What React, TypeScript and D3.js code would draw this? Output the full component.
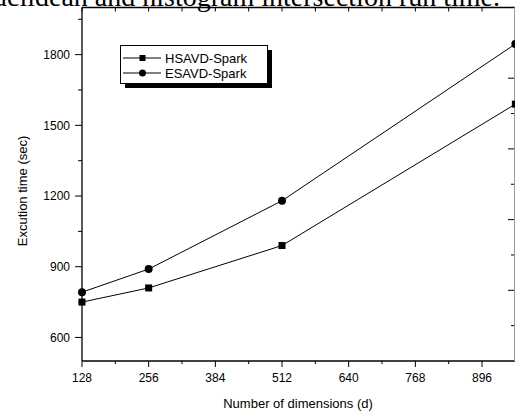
import React from "react";
import * as d3 from "d3";

const dims = [128, 256, 512, 960];
const hsavd = [750, 810, 990, 1590];
const esavd = [792, 890, 1180, 1845];
const xTicks = [128, 256, 384, 512, 640, 768, 896];
const xMinor = [192, 320, 448, 576, 704, 832];
const yTicks = [600, 900, 1200, 1500, 1800];
const yMinor = [750, 1050, 1350, 1650, 1950];
const rTicks = [800, 1100, 1400, 1700];
const rMinor = [650, 950, 1250, 1550];
const seriesNames = ["HSAVD-Spark", "ESAVD-Spark"];

const W = 515, H = 414;
const L = 82, R = 514, T = 7.5, B = 361;

export default function App() {
  const x = d3.scaleLinear().domain([128, 960]).range([L, 82 + (832 / 128) * 66.67]);
  const y = d3.scaleLinear().domain([500, 2000]).range([B, T]);
  const line = d3.line<number>().x((_, i) => x(dims[i])).y((v) => y(v));
  const font = "Liberation Sans, Arial, sans-serif";
  const topTicks = [...xTicks, ...xMinor];
  return (
    <svg width={W} height={H} style={{ position: "absolute", left: 0, top: 0, background: "#fff" }}>
      <text x={500} y={6} textAnchor="end" fontFamily="Liberation Serif, Times New Roman, serif" fontSize={28} fill="#000">
        Euclidean and histogram intersection run time.
      </text>
      {/* frame */}
      <line x1={L} x2={L} y1={T} y2={B} stroke="#000" strokeWidth={1.3} />
      <line x1={L} x2={W} y1={B} y2={B} stroke="#000" strokeWidth={1.3} />
      <line x1={L} x2={W} y1={T} y2={T} stroke="#000" strokeWidth={1.3} />
      <line x1={R + 0.5} x2={R + 0.5} y1={T} y2={B} stroke="#999" strokeWidth={1} />
      {/* left ticks */}
      {yTicks.map((v) => (
        <g key={"y" + v}>
          <line x1={L - 7} x2={L} y1={y(v)} y2={y(v)} stroke="#000" />
          <text x={L - 12} y={y(v)} dy="0.35em" textAnchor="end" fontFamily={font} fontSize={12}>{v}</text>
        </g>
      ))}
      {yMinor.map((v) => (
        <line key={"ym" + v} x1={L - 4} x2={L} y1={y(v)} y2={y(v)} stroke="#000" />
      ))}
      {/* right ticks */}
      {rTicks.map((v) => (
        <line key={"r" + v} x1={R - 6} x2={R} y1={y(v)} y2={y(v)} stroke="#000" />
      ))}
      {rMinor.map((v) => (
        <line key={"rm" + v} x1={R - 3} x2={R} y1={y(v)} y2={y(v)} stroke="#000" />
      ))}
      {/* bottom ticks */}
      {xTicks.map((v) => (
        <g key={"x" + v}>
          <line x1={x(v)} x2={x(v)} y1={B} y2={B + 6} stroke="#000" />
          <text x={x(v)} y={B + 21} textAnchor="middle" fontFamily={font} fontSize={12}>{v}</text>
        </g>
      ))}
      {xMinor.map((v) => (
        <line key={"xm" + v} x1={x(v)} x2={x(v)} y1={B} y2={B + 3} stroke="#000" />
      ))}
      {topTicks.map((v) => (
        <line key={"t" + v} x1={x(v)} x2={x(v)} y1={T} y2={T + 4} stroke="#000" />
      ))}
      {/* axis labels */}
      <text transform={`translate(27,191) rotate(-90)`} textAnchor="middle" fontFamily={font} fontSize={13}>Excution time (sec)</text>
      <text x={298} y={408} textAnchor="middle" fontFamily={font} fontSize={13}>Number of dimensions (d)</text>
      {/* series */}
      <path d={line(hsavd) || ""} fill="none" stroke="#000" strokeWidth={1} />
      <path d={line(esavd) || ""} fill="none" stroke="#000" strokeWidth={1} />
      {hsavd.map((v, i) => (
        <rect key={"h" + i} x={x(dims[i]) - 3.5} y={y(v) - 3.5} width={7} height={7} fill="#000" />
      ))}
      {esavd.map((v, i) => (
        <circle key={"e" + i} cx={x(dims[i])} cy={y(v)} r={4} fill="#000" />
      ))}
      {/* legend */}
      <rect x={125} y={50} width={147} height={38} fill="#000" />
      <rect x={120.5} y={45.5} width={147} height={38} fill="#fff" stroke="#000" strokeWidth={1} />
      {seriesNames.map((n, i) => {
        const ly = 58 + i * 15;
        return (
          <g key={n}>
            <line x1={123} x2={161} y1={ly} y2={ly} stroke="#000" strokeWidth={1} />
            {i === 0 ? (
              <rect x={139.5} y={ly - 3} width={6} height={6} fill="#000" />
            ) : (
              <circle cx={142.5} cy={ly} r={3.5} fill="#000" />
            )}
            <text x={165} y={ly} dy="0.36em" fontFamily={font} fontSize={13}>{n}</text>
          </g>
        );
      })}
    </svg>
  );
}
